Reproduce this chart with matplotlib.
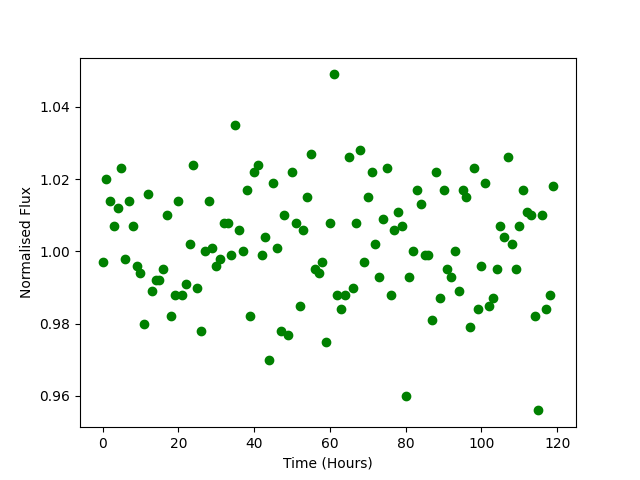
import matplotlib
matplotlib.use("Agg")
import matplotlib.pyplot as plt
import numpy as np

# one reading per hour
hours = np.arange(120)

flux = [
    0.997, 1.020, 1.014, 1.007, 1.012, 1.023, 0.998, 1.014, 1.007, 0.996,
    0.994, 0.980, 1.016, 0.989, 0.992, 0.992, 0.995, 1.010, 0.982, 0.988,
    1.014, 0.988, 0.991, 1.002, 1.024, 0.990, 0.978, 1.000, 1.014, 1.001,
    0.996, 0.998, 1.008, 1.008, 0.999, 1.035, 1.006, 1.000, 1.017, 0.982,
    1.022, 1.024, 0.999, 1.004, 0.970, 1.019, 1.001, 0.978, 1.010, 0.977,
    1.022, 1.008, 0.985, 1.006, 1.015, 1.027, 0.995, 0.994, 0.997, 0.975,
    1.008, 1.049, 0.988, 0.984, 0.988, 1.026, 0.990, 1.008, 1.028, 0.997,
    1.015, 1.022, 1.002, 0.993, 1.009, 1.023, 0.988, 1.006, 1.011, 1.007,
    0.960, 0.993, 1.000, 1.017, 1.013, 0.999, 0.999, 0.981, 1.022, 0.987,
    1.017, 0.995, 0.993, 1.000, 0.989, 1.017, 1.015, 0.979, 1.023, 0.984,
    0.996, 1.019, 0.985, 0.987, 0.995, 1.007, 1.004, 1.026, 1.002, 0.995,
    1.007, 1.017, 1.011, 1.010, 0.982, 0.956, 1.010, 0.984, 0.988, 1.018,
]

fig, ax = plt.subplots(figsize=(6.4, 4.8), dpi=100)
ax.plot(hours, flux, "o", color="green")
ax.set_xlabel("Time (Hours)")
ax.set_ylabel("Normalised Flux")
plt.savefig("out.png")
